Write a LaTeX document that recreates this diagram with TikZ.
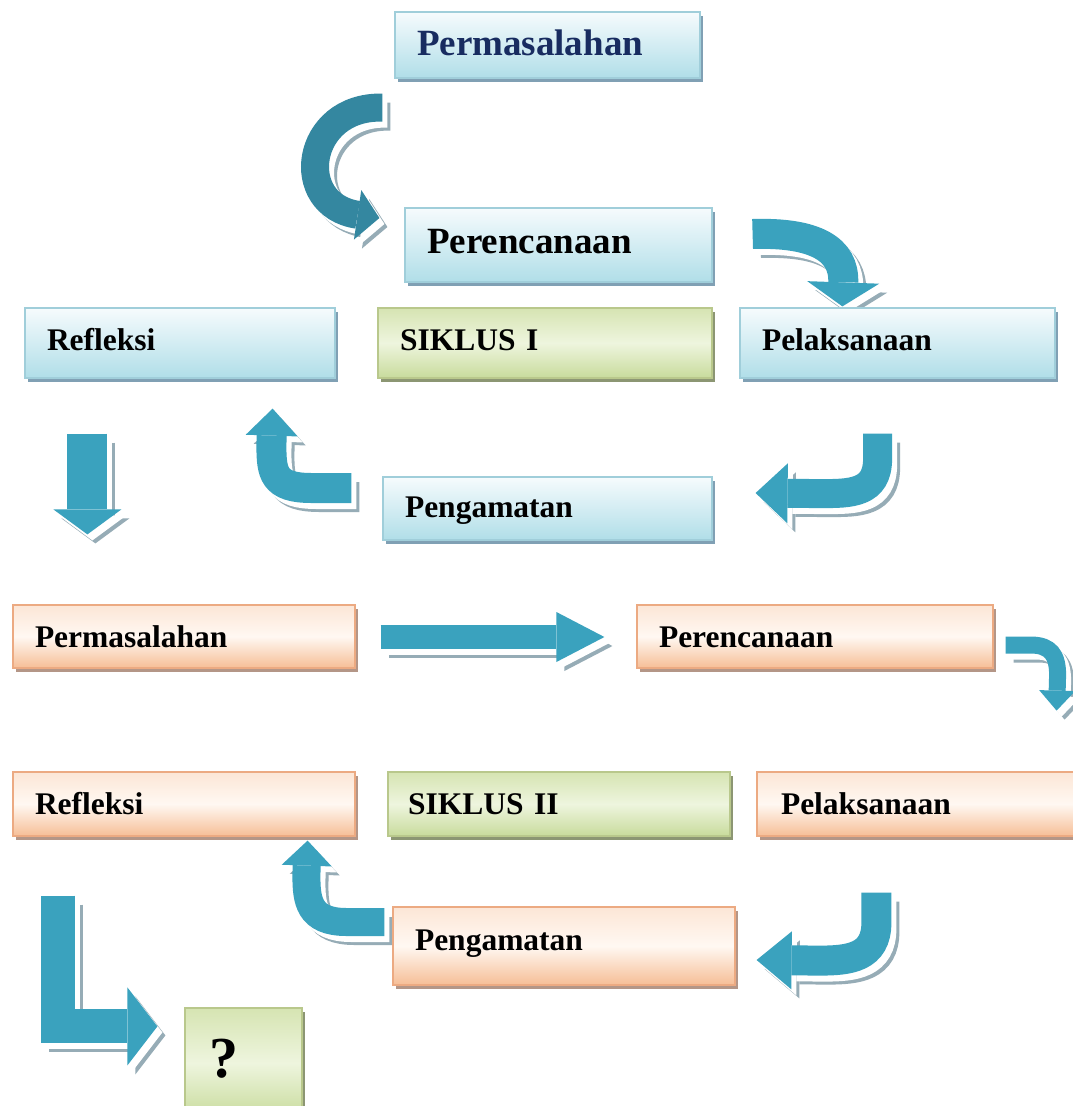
\documentclass[tikz,border=0pt]{standalone}
\usepackage{fontspec}
\setmainfont{Liberation Serif}
\usetikzlibrary{arrows.meta,shadows,calc}
\definecolor{teal1}{RGB}{58,162,190}
\definecolor{teal2}{RGB}{52,135,160}
\definecolor{ashadowc}{RGB}{150,172,182}
\definecolor{bluetop}{RGB}{246,251,253}
\definecolor{bluebot}{RGB}{176,222,232}
\definecolor{blueline}{RGB}{160,206,218}
\definecolor{blueshd}{RGB}{128,160,180}
\definecolor{ortop}{RGB}{252,230,214}
\definecolor{ormid}{RGB}{255,248,242}
\definecolor{orbot}{RGB}{246,190,150}
\definecolor{orline}{RGB}{236,170,130}
\definecolor{orshd}{RGB}{180,150,135}
\definecolor{grtop}{RGB}{214,228,178}
\definecolor{grmid}{RGB}{238,245,222}
\definecolor{grbot}{RGB}{200,219,156}
\definecolor{grline}{RGB}{185,200,140}
\definecolor{grshd}{RGB}{140,150,115}
\definecolor{navy}{RGB}{24,44,96}
\pgfdeclarelayer{bgfill}
\pgfdeclarelayer{arrowlayer}
\pgfsetlayers{bgfill,arrowlayer,main}
\tikzset{
  box/.style={rectangle, line width=1.2pt, inner xsep=0pt, inner ysep=0pt,
    align=left, text height=21pt, text depth=0pt,
    font=\fontsize{31.5}{34}\selectfont\bfseries},
  bigtext/.style={text height=24.5pt, font=\fontsize{37}{40}\selectfont\bfseries},
  bluebox/.style={box, draw=blueline, top color=bluetop, bottom color=bluebot,
    drop shadow={shadow xshift=3pt, shadow yshift=-4pt, fill=blueshd, opacity=1}},
  orbox/.style={box, draw=orline, top color=ortop, bottom color=orbot, middle color=ormid,
    drop shadow={shadow xshift=3pt, shadow yshift=-4pt, fill=orshd, opacity=1}},
  greenbox/.style={box, draw=grline, top color=grtop, bottom color=grbot, middle color=grmid,
    drop shadow={shadow xshift=3pt, shadow yshift=-4pt, fill=grshd, opacity=1}},
  ashadow/.style={draw=ashadowc, line cap=butt},
  awhite/.style={draw=white, line cap=butt},
  amain/.style={line cap=butt},
}
\newcommand\blockarr[3][teal1]{%
  \draw[ashadow,#2,transform canvas={shift={(8pt,-9pt)}}] #3;
  \draw[awhite,#2,transform canvas={shift={(5pt,-6pt)}}] #3;
  \draw[amain,#2,draw=#1] #3;}
\begin{document}
\begin{tikzpicture}[x=1pt,y=1pt]
\begin{pgfonlayer}{bgfill}
\fill[white] (0,0) rectangle (1073,-1106);
\end{pgfonlayer}
\useasboundingbox (0,0) rectangle (1073,-1106);

% ---- Siklus I ----
\node[bluebox, bigtext, text=navy, text depth=4pt, minimum width=305pt, minimum height=66pt, text width=261pt] (p1) at (547.5,-45) {Permasalahan};
\node[bluebox, bigtext, text depth=8pt, minimum width=307pt, minimum height=74pt, text width=263pt] (r1) at (558.5,-245) {Perencanaan};
\node[bluebox, text depth=6pt, minimum width=310pt, minimum height=70pt, text width=266pt] (f1) at (180,-343) {Refleksi};
\node[greenbox, text depth=6pt, minimum width=334pt, minimum height=70pt, text width=290pt] (s1) at (545,-343) {SIKLUS I};
\node[bluebox, text depth=6pt, minimum width=315pt, minimum height=70pt, text width=271pt] (l1) at (897.5,-343) {Pelaksanaan};
\node[bluebox, text depth=3pt, minimum width=329pt, minimum height=63pt, text width=285pt] (g1) at (547.5,-508.5) {Pengamatan};

% ---- Siklus II ----
\node[orbox, minimum width=342pt, minimum height=63pt, text width=298pt] (p2) at (184,-636.5) {Permasalahan};
\node[orbox, minimum width=356pt, minimum height=63pt, text width=312pt] (r2) at (815,-636.5) {Perencanaan};
\node[orbox, minimum width=342pt, minimum height=64pt, text width=298pt] (f2) at (184,-804) {Refleksi};
\node[greenbox, minimum width=342pt, minimum height=64pt, text width=302pt] (s2) at (559,-804) {SIKLUS II};
\node[orbox, minimum width=330pt, minimum height=64pt, text width=282pt] (l2) at (922,-804) {Pelaksanaan};
\node[orbox, text depth=12pt, minimum width=342pt, minimum height=78pt, text width=298pt] (g2) at (564,-946) {Pengamatan};
\node[greenbox, font=\fontsize{58}{60}\selectfont\bfseries, text height=40pt, text depth=12pt, minimum width=117pt, minimum height=110pt, text width=69pt] (q) at (243.5,-1063) {?};

% ---- connector end points ----
\coordinate (a1s) at ($(p1.south west)+(-12,-29)$);
\coordinate (a1e) at ($(r1.west)+(-25,27)$);
\coordinate (a2s) at ($(r1.east)+(40,11)$);
\coordinate (a2e) at ($(l1.north west)+(103,1)$);
\coordinate (a3s) at ($(l1.south east)+(-178,-55)$);
\coordinate (a3e) at ($(g1.east)+(43,15.5)$);
\coordinate (a4s) at ($(g1.west)+(-31,20.5)$);
\coordinate (a4e) at ($(f1.south east)+(-63,-30)$);
\coordinate (a5s) at ($(f1.south west)+(63,-55)$);
\coordinate (a5e) at ($(p2.north west)+(75,70)$);
\coordinate (a6s) at ($(p2.east)+(25,-0.5)$);
\coordinate (a6e) at ($(r2.west)+(-32,-0.5)$);
\coordinate (a7s) at ($(r2.east)+(12,-8.5)$);
\coordinate (a7e) at ($(r2.south east)+(63,-42)$);
\coordinate (a8s) at ($(l2.south west)+(120,-56)$);
\coordinate (a8e) at ($(g2.east)+(21,-14)$);
\coordinate (a9s) at ($(g2.west)+(-8,24)$);
\coordinate (a9e) at ($(f2.south east)+(-48,-4)$);
\coordinate (a10s) at ($(f2.south west)+(46,-59)$);
\coordinate (a10e) at ($(q.north west)+(-27,-19)$);

\begin{pgfonlayer}{arrowlayer}
\blockarr[teal2]{line width=28pt, -{Triangle[length=22pt,width=50pt,line width=0pt]}}
  {(a1s) .. controls +(-78,2) and +(-88,13) .. (a1e)}
\blockarr{line width=30pt, -{Triangle[length=24pt,width=72pt,line width=0pt]}}
  {(a2s) .. controls +(63,2) and +(2,57) .. (a2e)}
\blockarr{line width=29pt, -{Triangle[length=32pt,width=60pt,line width=0pt]}}
  {(a3s) -- ++(0,-25) .. controls +(0,-35) and +(30,0) .. ++(-57,-35) -- (a3e)}
\blockarr{line width=30pt, -{Triangle[length=27pt,width=52pt,line width=0pt]}}
  {(a4s) -- ++(-40,0) .. controls +(-38,0) and +(0,-28) .. ++(-40,43) -- (a4e)}
\blockarr{line width=40pt, -{Triangle[length=25pt,width=68pt,line width=0pt]}}
  {(a5s) -- (a5e)}
\blockarr{line width=24pt, -{Triangle[length=48pt,width=50pt,line width=0pt]}}
  {(a6s) -- (a6e)}
\blockarr{line width=17pt, -{Triangle[length=20pt,width=36pt,line width=0pt]}}
  {(a7s) -- ++(25,0) .. controls +(20,0) and +(0,20) .. ++(27,-30) -- (a7e)}
\blockarr{line width=30pt, -{Triangle[length=35pt,width=58pt,line width=0pt]}}
  {(a8s) -- ++(0,-30) .. controls +(0,-35) and +(30,0) .. ++(-57,-38) -- (a8e)}
\blockarr{line width=28pt, -{Triangle[length=25pt,width=50pt,line width=0pt]}}
  {(a9s) -- ++(-38,0) .. controls +(-38,0) and +(0,-25) .. ++(-40,47) -- (a9e)}
\blockarr{line width=34pt, line join=miter, -{Triangle[length=30pt,width=78pt,line width=0pt]}}
  {(a10s) |- (a10e)}
\end{pgfonlayer}
\end{tikzpicture}
\end{document}
